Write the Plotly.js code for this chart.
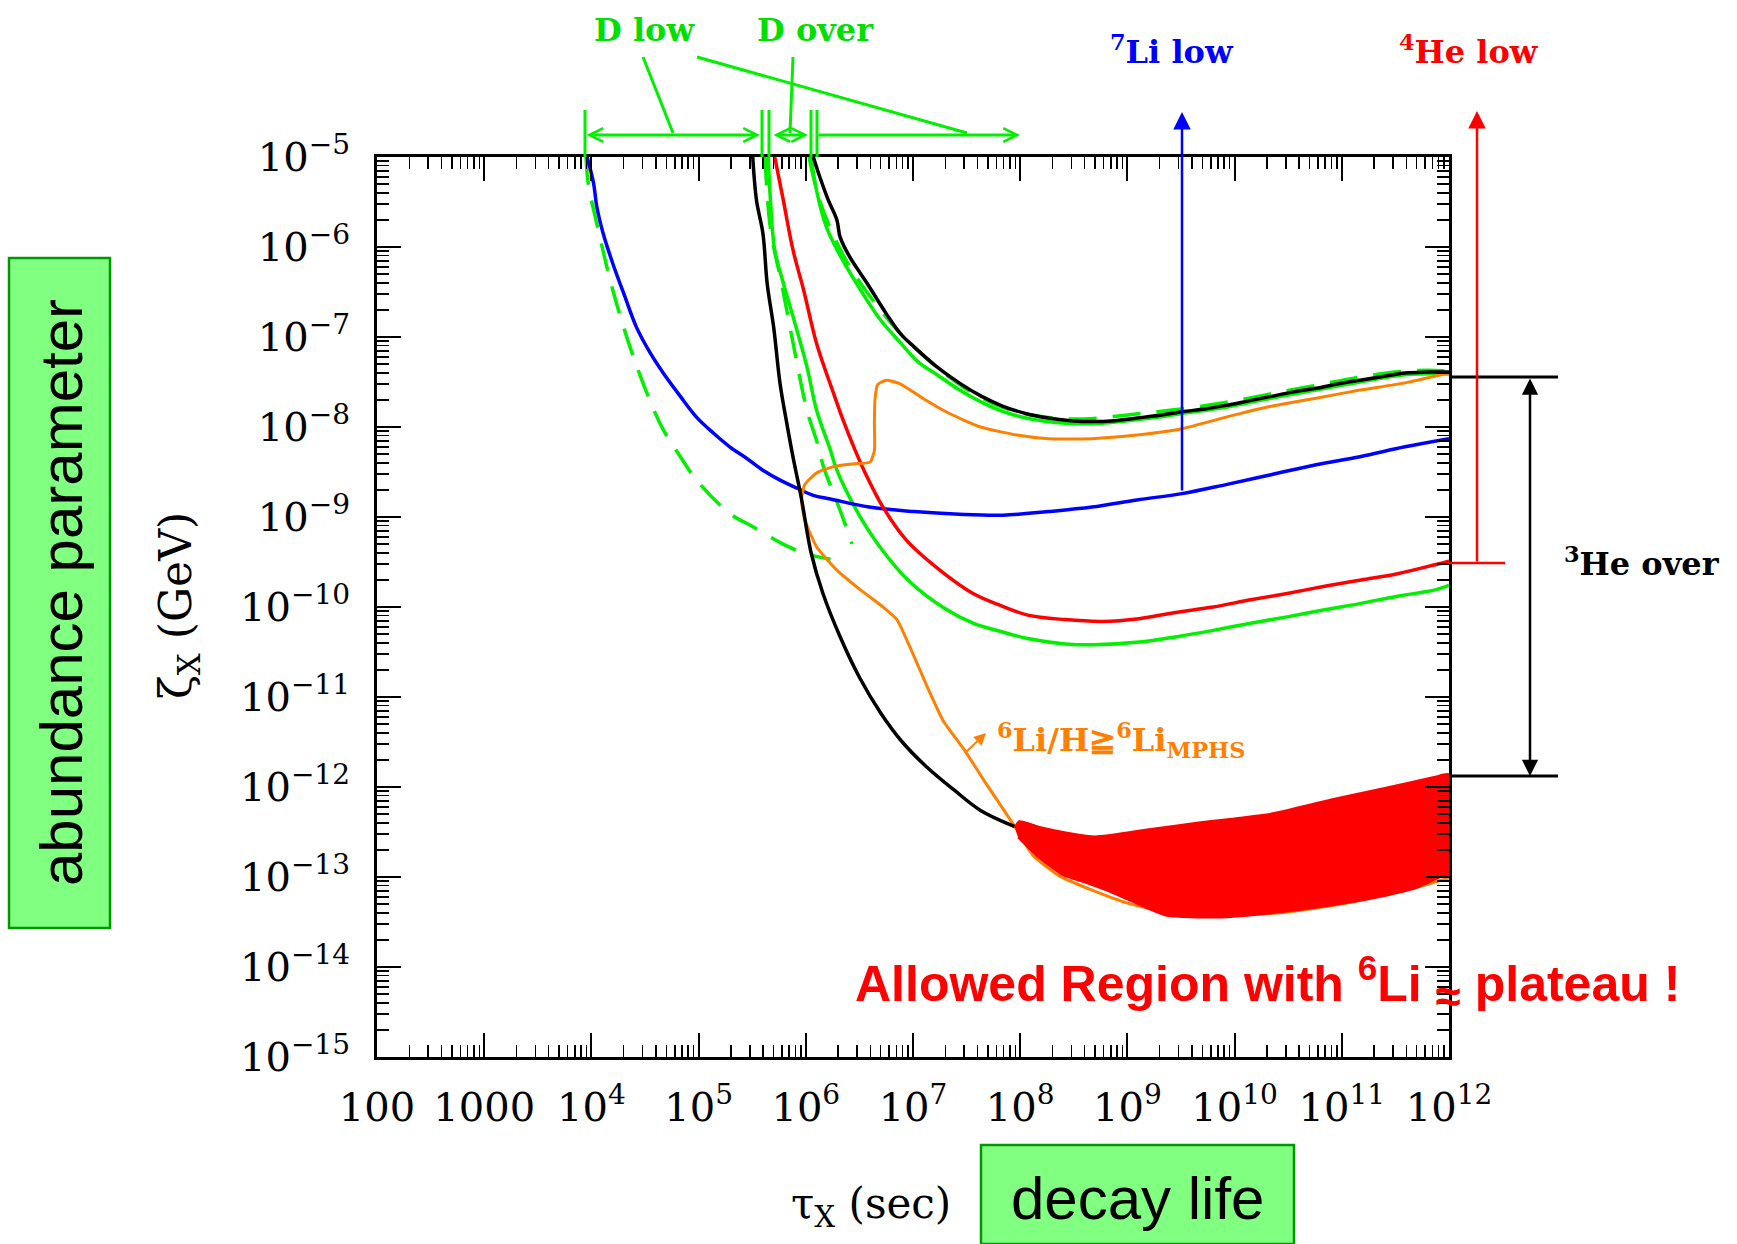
<!DOCTYPE html>
<html><head><meta charset="utf-8">
<script src="https://cdn.plot.ly/plotly-3.0.1.min.js"></script>
<style>html,body{margin:0;padding:0;background:#fff}#chart{width:1737px;height:1244px}</style>
</head><body><div id="chart"></div>
<script>
// ---- DATA: log10(tau_X / s) and log10(zeta_X / GeV) ----
const xTickVals = [1e2,1e3,1e4,1e5,1e6,1e7,1e8,1e9,1e10,1e11,1e12];
const xTickText = ['100','1000','10<sup>4</sup>','10<sup>5</sup>','10<sup>6</sup>','10<sup>7</sup>','10<sup>8</sup>','10<sup>9</sup>','10<sup>10</sup>','10<sup>11</sup>','10<sup>12</sup>'];
const yTickVals = [1e-15,1e-14,1e-13,1e-12,1e-11,1e-10,1e-9,1e-8,1e-7,1e-6,1e-5];
const yTickText = ['10<sup>−15</sup>','10<sup>−14</sup>','10<sup>−13</sup>','10<sup>−12</sup>','10<sup>−11</sup>','10<sup>−10</sup>','10<sup>−9</sup>','10<sup>−8</sup>','10<sup>−7</sup>','10<sup>−6</sup>','10<sup>−5</sup>'];

// 7Li low (blue)
const li7LowLogTau  = [3.96,4.02,4.05,4.11,4.21,4.30,4.42,4.55,4.67,4.83,4.98,5.14,5.29,5.45,5.60,5.76,5.92,6.07,6.23,6.59,7.01,7.43,7.84,8.26,8.67,9.09,9.51,9.92,10.34,10.76,11.17,11.59,12.0];
const li7LowLogZeta = [-5.0,-5.29,-5.55,-5.85,-6.22,-6.51,-6.89,-7.18,-7.40,-7.66,-7.89,-8.07,-8.22,-8.35,-8.48,-8.59,-8.68,-8.76,-8.80,-8.89,-8.94,-8.97,-8.98,-8.94,-8.89,-8.81,-8.74,-8.64,-8.53,-8.42,-8.33,-8.22,-8.13];

// 4He low (red)
const he4LowLogTau  = [5.71,5.79,5.88,5.98,6.10,6.26,6.35,6.44,6.55,6.72,6.94,7.25,7.56,7.81,8.07,8.42,8.76,9.11,9.45,9.80,10.15,10.49,10.84,11.18,11.52,11.87,12.0];
const he4LowLogZeta = [-5.0,-5.48,-6.03,-6.48,-7.07,-7.63,-7.93,-8.20,-8.50,-8.89,-9.26,-9.59,-9.85,-9.98,-10.09,-10.14,-10.16,-10.13,-10.06,-10.0,-9.92,-9.85,-9.77,-9.70,-9.63,-9.53,-9.49];

// D low (green dashed, left)
const dLowLogTau  = [3.95,3.97,4.05,4.20,4.36,4.52,4.67,4.83,4.98,5.29,5.51,5.77,5.98,6.23];
const dLowLogZeta = [-5.0,-5.29,-5.74,-6.48,-7.11,-7.63,-8.03,-8.33,-8.59,-8.96,-9.11,-9.29,-9.40,-9.47];

// D (green dashed, inner)
const dInnerLogTau  = [5.62,5.67,5.78,5.89,6.01,6.10,6.17,6.28,6.37,6.43];
const dInnerLogZeta = [-5.0,-5.79,-6.44,-7.12,-7.81,-8.15,-8.46,-8.80,-9.09,-9.30];

// D over (green solid, lower)
const dOverLowLogTau  = [5.65,5.67,5.71,5.79,5.88,6.01,6.10,6.23,6.29,6.47,6.69,6.97,7.30,7.56,7.81,8.07,8.42,8.69,9.11,9.46,9.80,10.15,10.49,10.84,11.18,11.52,11.87,12.0];
const dOverLowLogZeta = [-5.0,-5.48,-6.03,-6.40,-6.77,-7.33,-7.81,-8.26,-8.48,-8.92,-9.33,-9.72,-10.02,-10.18,-10.27,-10.35,-10.41,-10.42,-10.39,-10.33,-10.26,-10.18,-10.11,-10.03,-9.96,-9.88,-9.81,-9.76];

// D over (green solid, upper)
const dOverUpLogTau  = [6.05,6.10,6.19,6.30,6.47,6.69,6.88,7.05,7.20,7.45,7.72,7.95,8.20,8.47,8.75,9.00,9.30,9.51,9.92,10.34,10.76,11.17,11.59,12.0];
const dOverUpLogZeta = [-5.0,-5.37,-5.77,-6.05,-6.40,-6.80,-7.06,-7.28,-7.40,-7.60,-7.77,-7.87,-7.93,-7.96,-7.96,-7.93,-7.89,-7.85,-7.78,-7.68,-7.59,-7.50,-7.42,-7.41];

// D (green dashed, upper)
const dUpDashLogTau  = [6.03,6.12,6.25,6.40,6.60,6.80,7.00,7.25,7.50,7.75,8.00,8.30,8.60,8.90,9.20,9.50,9.90,10.30,10.70,11.10,11.50,11.80,12.0];
const dUpDashLogZeta = [-5.0,-5.45,-5.85,-6.20,-6.55,-6.85,-7.10,-7.36,-7.58,-7.74,-7.84,-7.90,-7.91,-7.88,-7.84,-7.80,-7.73,-7.64,-7.55,-7.46,-7.39,-7.37,-7.38];

// 3He over (black, left)
const he3LeftLogTau  = [5.505,5.54,5.60,5.64,5.70,5.76,5.82,5.88,5.96,6.05,6.16,6.32,6.50,6.70,6.90,7.13,7.38,7.63,7.95];
const he3LeftLogZeta = [-5.0,-5.48,-5.85,-6.41,-6.89,-7.52,-7.94,-8.33,-8.80,-9.40,-9.85,-10.33,-10.78,-11.18,-11.50,-11.78,-12.03,-12.26,-12.44];

// 3He over (black, right)
const he3RightLogTau  = [6.07,6.13,6.21,6.29,6.32,6.41,6.57,6.75,6.88,7.01,7.22,7.43,7.64,7.84,8.05,8.26,8.47,8.67,8.88,9.09,9.30,9.51,9.72,9.92,10.13,10.34,10.55,10.76,10.97,11.17,11.38,11.59,11.80,12.0];
const he3RightLogZeta = [-5.0,-5.22,-5.48,-5.70,-5.89,-6.11,-6.40,-6.74,-6.96,-7.11,-7.33,-7.51,-7.66,-7.77,-7.85,-7.90,-7.93,-7.94,-7.93,-7.90,-7.87,-7.83,-7.80,-7.76,-7.71,-7.66,-7.61,-7.57,-7.52,-7.48,-7.44,-7.40,-7.39,-7.39];

// 6Li/H >= 6Li_MPHS (orange)
const li6LogTau  = [12.0,11.59,11.17,10.76,10.34,9.92,9.51,9.09,8.67,8.26,7.97,7.63,7.34,7.09,6.88,6.75,6.67,6.645,6.64,6.64,6.60,6.44,6.26,6.10,5.99,5.96,5.99,6.10,6.29,6.51,6.72,6.85,6.97,7.13,7.28,7.48,7.68,7.95,8.12,8.37,8.70,9.00,9.30,9.80,10.40,10.90,11.40,11.80,12.0];
const li6LogZeta = [-7.40,-7.51,-7.59,-7.68,-7.77,-7.89,-8.02,-8.09,-8.13,-8.13,-8.09,-8.00,-7.85,-7.68,-7.52,-7.48,-7.53,-7.70,-7.95,-8.26,-8.39,-8.41,-8.44,-8.51,-8.64,-8.81,-9.03,-9.33,-9.59,-9.81,-10.0,-10.14,-10.44,-10.88,-11.26,-11.59,-11.96,-12.44,-12.76,-12.99,-13.16,-13.29,-13.37,-13.42,-13.40,-13.32,-13.20,-13.08,-13.01];

// Allowed region (red fill)
const allowedLogTau  = [7.95,7.99,8.20,8.45,8.70,9.20,9.70,10.00,10.37,10.90,11.40,11.86,12.0,12.0,11.92,11.70,11.36,10.88,10.36,9.85,9.37,9.23,8.87,8.60,8.40,8.15,7.98];
const allowedLogZeta = [-12.45,-12.38,-12.45,-12.51,-12.55,-12.47,-12.39,-12.35,-12.29,-12.14,-12.01,-11.89,-11.86,-12.98,-13.00,-13.12,-13.22,-13.32,-13.40,-13.45,-13.43,-13.37,-13.18,-13.06,-12.98,-12.76,-12.56];

// ---- helpers ----
const pow10 = a => a.map(v => Math.pow(10, v));
const L = 377, T = 157, W = 1072, H = 900;
const PX = x => (x - L) / W;
const PY = y => (T + H - y) / H;

function curve(lt, lz, color, width, dash, smooth) {
  return {x: pow10(lt), y: pow10(lz), mode: 'lines', hoverinfo: 'skip',
    line: {color: color, width: width, dash: dash || 'solid', shape: 'spline', smoothing: smooth == null ? 1.0 : smooth}};
}
const GREEN = '#00f000', DASH = '28px,16px';
const traces = [
  curve(dLowLogTau, dLowLogZeta, GREEN, 3.5, DASH),
  curve(dInnerLogTau, dInnerLogZeta, GREEN, 3.5, DASH),
  curve(dUpDashLogTau, dUpDashLogZeta, GREEN, 3.5, DASH),
  curve(dOverLowLogTau, dOverLowLogZeta, GREEN, 3.5),
  curve(dOverUpLogTau, dOverUpLogZeta, GREEN, 3.5),
  curve(li7LowLogTau, li7LowLogZeta, '#0000ff', 3.5),
  curve(he4LowLogTau, he4LowLogZeta, '#ff0000', 3.5),
  curve(li6LogTau, li6LogZeta, '#ff8000', 3, 'solid', 0.5),
  curve(he3LeftLogTau, he3LeftLogZeta, '#000000', 3.5),
  curve(he3RightLogTau, he3RightLogZeta, '#000000', 3.5),
  {x: pow10(allowedLogTau), y: pow10(allowedLogZeta), mode: 'lines', fill: 'toself', fillcolor: '#ff0000',
   line: {color: '#ff0000', width: 2, shape: 'spline', smoothing: 0.6}, hoverinfo: 'skip'}
];

// ---- decorations ----
const shapes = [];
function seg(x0, y0, x1, y1, color, w) {
  shapes.push({type: 'line', xref: 'paper', yref: 'paper', x0: PX(x0), y0: PY(y0), x1: PX(x1), y1: PY(y1),
    line: {color: color, width: w}});
}
function box(x0, y0, x1, y1) {
  shapes.push({type: 'rect', xref: 'paper', yref: 'paper', x0: PX(x0), y0: PY(y0), x1: PX(x1), y1: PY(y1),
    fillcolor: '#80ff80', line: {color: '#009a00', width: 2.5}, layer: 'above'});
}
const ann = [];
function arrow(hx, hy, tx, ty, color, w, head, size, both) {
  ann.push({xref: 'paper', yref: 'paper', x: PX(hx), y: PY(hy), axref: 'pixel', ayref: 'pixel',
    ax: tx - hx, ay: ty - hy, text: '', showarrow: true, arrowhead: head, startarrowhead: head,
    arrowsize: size, startarrowsize: size, arrowwidth: w, arrowcolor: color,
    arrowside: both ? 'end+start' : 'end', standoff: 0, startstandoff: 0});
}
function label(x, y, text, font, angle) {
  ann.push({xref: 'paper', yref: 'paper', x: PX(x), y: PY(y), text: text, showarrow: false,
    xanchor: 'center', yanchor: 'middle', font: font, textangle: angle || 0});
}
const labFont = c => ({family: 'DejaVu Serif', size: 32, color: c, weight: 'bold'});

// green D bracket
[585, 762, 769, 811, 817].forEach(x => seg(x, 110, x, 157, GREEN, 3));
arrow(760, 135, 585, 135, GREEN, 3, 5, 0.9, true);
arrow(808, 135, 772, 135, GREEN, 3, 5, 0.9, true);
arrow(1020, 135, 817, 135, GREEN, 3, 5, 0.9, false);
seg(643, 57, 673, 133, GREEN, 3);
seg(697, 57, 967, 133, GREEN, 3);
seg(793, 57, 790, 133, GREEN, 3);
label(644, 30, 'D low', labFont('#00e000'));
label(815, 30, 'D over', labFont('#00e000'));

// 7Li low arrow
arrow(1182, 112, 1182, 492, '#0000ff', 2.5, 2, 1.4, false);
label(1172, 50, '<sup>7</sup>Li low', labFont('#0000ff'));

// 4He low arrow
seg(1449, 563, 1505, 563, '#ff0000', 2.5);
arrow(1477, 111, 1477, 563, '#ff0000', 2.5, 2, 1.4, false);
label(1469, 50, '<sup>4</sup>He low', labFont('#ff0000'));

// 3He over bracket
seg(1449, 377, 1558, 377, '#000000', 3);
seg(1449, 776, 1558, 776, '#000000', 3);
arrow(1530, 776, 1530, 377, '#000000', 2.5, 2, 1.3, true);
label(1642, 562, '<sup>3</sup>He over', labFont('#000000'));

// 6Li label
arrow(986, 733, 964, 754, '#ff8000', 2, 2, 1.2, false);
label(1121, 740, '<sup>6</sup>Li/H≧<sup>6</sup>Li<sub>MPHS</sub>', labFont('#ff8000'));

// Allowed region text
label(1267, 985, 'Allowed Region with <sup>6</sup>Li <sub><span style="font-size:46px">≈</span></sub> plateau !',
  {family: 'Liberation Sans, Arial, sans-serif', size: 50, color: '#ff0000', weight: 'bold'});

// axis titles
label(871, 1206, 'τ<sub>X</sub> (sec)', {family: 'DejaVu Serif', size: 42, color: '#000'});
label(178, 606, 'ζ<sub>X</sub> (GeV)', {family: 'DejaVu Serif', size: 44, color: '#000'}, -90);

// green boxes
box(981, 1145, 1294, 1244);
label(1137, 1198, 'decay life', {family: 'Liberation Sans, Arial, sans-serif', size: 60, color: '#000'});
box(9, 258, 110, 928);
label(61, 593, 'abundance parameter', {family: 'Liberation Sans, Arial, sans-serif', size: 60, color: '#000'}, -90);

// minor tick positions
const xMinor = [], yMinor = [];
for (let d = 2; d < 12; d++) for (let k = 2; k <= 9; k++) xMinor.push(k * Math.pow(10, d));
for (let d = -15; d < -5; d++) for (let k = 2; k <= 9; k++) yMinor.push(k * Math.pow(10, d));

const axisCommon = {
  type: 'log', ticks: 'inside', ticklen: 24, tickwidth: 2, tickcolor: '#000',
  showline: true, linewidth: 3, linecolor: '#000', mirror: 'allticks',
  showgrid: false, zeroline: false,
  tickfont: {family: 'DejaVu Serif', size: 40, color: '#000'}
};
const layout = {
  width: 1737, height: 1244,
  margin: {l: L, r: 1737 - L - W, t: T, b: 1244 - T - H, pad: 0},
  paper_bgcolor: '#ffffff', plot_bgcolor: '#ffffff', showlegend: false,
  xaxis: Object.assign({}, axisCommon, {range: [2, 12], tickmode: 'array', tickvals: xTickVals, ticktext: xTickText,
    ticklabelstandoff: 13,
    minor: {tickmode: 'array', tickvals: xMinor, ticks: 'inside', ticklen: 12, tickwidth: 1.5, tickcolor: '#000'}}),
  yaxis: Object.assign({}, axisCommon, {range: [-15, -5], tickmode: 'array', tickvals: yTickVals, ticktext: yTickText,
    ticklabelstandoff: 16,
    minor: {tickmode: 'array', tickvals: yMinor, ticks: 'inside', ticklen: 12, tickwidth: 1.5, tickcolor: '#000'}}),
  shapes: shapes, annotations: ann
};
Plotly.newPlot('chart', traces, layout, {staticPlot: true, displayModeBar: false});
</script>
</body></html>
